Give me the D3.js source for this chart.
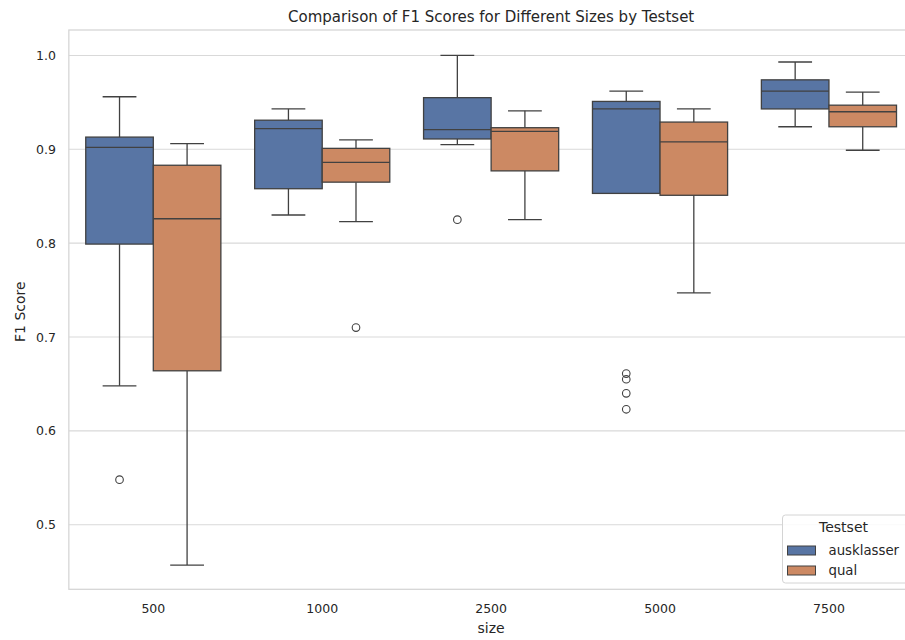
<!DOCTYPE html>
<html>
<head>
<meta charset="utf-8">
<script src="https://cdn.jsdelivr.net/npm/d3@7"></script>
<style>
  html, body { margin: 0; padding: 0; background: #ffffff; }
  svg { display: block; font-family: "DejaVu Sans", sans-serif; }
</style>
</head>
<body>
<svg id="chart" width="905" height="640"></svg>
<script>
// Categories (training size) and hue levels (test set)
const sizes = ["500", "1000", "2500", "5000", "7500"];
const testsets = ["ausklasser", "qual"];
const yTicks = [0.5, 0.6, 0.7, 0.8, 0.9, 1.0];

// Box statistics per size: [lower whisker, Q1, median, Q3, upper whisker]
const ausklasserStats = [
  [0.648, 0.799, 0.902, 0.913, 0.956],
  [0.830, 0.858, 0.922, 0.931, 0.943],
  [0.905, 0.911, 0.921, 0.955, 1.000],
  [0.853, 0.853, 0.943, 0.951, 0.962],
  [0.924, 0.943, 0.962, 0.974, 0.993]
];
const qualStats = [
  [0.457, 0.664, 0.826, 0.883, 0.906],
  [0.823, 0.865, 0.886, 0.901, 0.910],
  [0.825, 0.877, 0.919, 0.923, 0.941],
  [0.747, 0.851, 0.908, 0.929, 0.943],
  [0.899, 0.924, 0.940, 0.947, 0.961]
];
// Outlier points per size
const ausklasserOutliers = [[0.548], [], [0.825], [0.661, 0.655, 0.640, 0.623], []];
const qualOutliers = [[], [0.710], [], [], []];

const colors = ["#5875a4", "#cc8963"];
const lineColor = "#414141";

const svg = d3.select("#chart");
const margin = { left: 68.85, right: 913.4, top: 30, bottom: 589.3 };

const x = d3.scaleBand().domain(sizes).range([margin.left, margin.right]).padding(0);
const hue = d3.scaleBand().domain(testsets).range([-0.4, 0.4]);
const y = d3.scaleLinear().domain([0.4312, 1.0271]).range([margin.bottom, margin.top]);

const bw = x.bandwidth();
const boxW = hue.bandwidth() * bw;

// Grid lines
svg.append("g")
  .selectAll("line")
  .data(yTicks)
  .join("line")
  .attr("x1", margin.left).attr("x2", margin.right)
  .attr("y1", d => y(d)).attr("y2", d => y(d))
  .attr("stroke", "#d9d9d9").attr("stroke-width", 1.1);

// Frame (spines)
svg.append("rect")
  .attr("x", margin.left).attr("y", margin.top)
  .attr("width", margin.right - margin.left)
  .attr("height", margin.bottom - margin.top)
  .attr("fill", "none").attr("stroke", "#d4d4d4").attr("stroke-width", 1.25);

// Axes
const yAxis = d3.axisLeft(y).tickValues(yTicks).tickFormat(d3.format(".1f")).tickSize(0).tickPadding(13);
svg.append("g").attr("transform", `translate(${margin.left},0)`).call(yAxis)
  .call(g => g.select(".domain").remove())
  .selectAll("text").attr("font-size", 12.5).attr("fill", "#262626")
  .attr("font-family", "DejaVu Sans, sans-serif");

const xAxis = d3.axisBottom(x).tickSize(0).tickPadding(15);
svg.append("g").attr("transform", `translate(0,${margin.bottom})`).call(xAxis)
  .call(g => g.select(".domain").remove())
  .selectAll("text").attr("font-size", 12.5).attr("fill", "#262626")
  .attr("font-family", "DejaVu Sans, sans-serif");

// Boxes
const series = [
  { name: testsets[0], stats: ausklasserStats, outliers: ausklasserOutliers, color: colors[0] },
  { name: testsets[1], stats: qualStats, outliers: qualOutliers, color: colors[1] }
];

series.forEach(s => {
  const g = svg.append("g");
  sizes.forEach((size, i) => {
    const [lo, q1, med, q3, hi] = s.stats[i];
    const cx = x(size) + bw / 2 + (hue(s.name) + hue.bandwidth() / 2) * bw;
    const capW = boxW / 2;
    // whiskers
    g.append("line").attr("x1", cx).attr("x2", cx).attr("y1", y(q3)).attr("y2", y(hi))
      .attr("stroke", lineColor).attr("stroke-width", 1.3);
    g.append("line").attr("x1", cx).attr("x2", cx).attr("y1", y(q1)).attr("y2", y(lo))
      .attr("stroke", lineColor).attr("stroke-width", 1.3);
    g.append("line").attr("x1", cx - capW / 2).attr("x2", cx + capW / 2).attr("y1", y(hi)).attr("y2", y(hi))
      .attr("stroke", lineColor).attr("stroke-width", 1.3);
    g.append("line").attr("x1", cx - capW / 2).attr("x2", cx + capW / 2).attr("y1", y(lo)).attr("y2", y(lo))
      .attr("stroke", lineColor).attr("stroke-width", 1.3);
    // box
    g.append("rect")
      .attr("x", cx - boxW / 2).attr("width", boxW)
      .attr("y", y(q3)).attr("height", y(q1) - y(q3))
      .attr("fill", s.color).attr("stroke", lineColor).attr("stroke-width", 1.3);
    // median
    g.append("line").attr("x1", cx - boxW / 2).attr("x2", cx + boxW / 2).attr("y1", y(med)).attr("y2", y(med))
      .attr("stroke", lineColor).attr("stroke-width", 1.3);
    // outliers
    g.selectAll(null).data(s.outliers[i]).join("circle")
      .attr("cx", cx).attr("cy", d => y(d)).attr("r", 3.8)
      .attr("fill", "none").attr("stroke", lineColor).attr("stroke-width", 1.1);
  });
});

// Title and axis labels
svg.append("text").attr("x", (margin.left + margin.right) / 2).attr("y", 22)
  .attr("text-anchor", "middle").attr("font-size", 15).attr("fill", "#262626")
  .text("Comparison of F1 Scores for Different Sizes by Testset");
svg.append("text").attr("x", (margin.left + margin.right) / 2).attr("y", 632.5)
  .attr("text-anchor", "middle").attr("font-size", 14).attr("fill", "#262626")
  .text("size");
svg.append("text")
  .attr("transform", `translate(25,${(margin.top + margin.bottom) / 2 + 2}) rotate(-90)`)
  .attr("text-anchor", "middle").attr("font-size", 14).attr("fill", "#262626")
  .text("F1 Score");

// Legend
const lg = svg.append("g").attr("transform", "translate(782.5,515)");
lg.append("rect").attr("width", 126).attr("height", 68).attr("rx", 3)
  .attr("fill", "#ffffff").attr("fill-opacity", 0.85)
  .attr("stroke", "#d4d4d4").attr("stroke-width", 1);
lg.append("text").attr("x", 61).attr("y", 17).attr("text-anchor", "middle")
  .attr("font-size", 14).attr("fill", "#262626").text("Testset");
testsets.forEach((t, i) => {
  lg.append("rect").attr("x", 5).attr("y", 31 + i * 20).attr("width", 28).attr("height", 9)
    .attr("fill", colors[i]).attr("stroke", lineColor).attr("stroke-width", 1);
  lg.append("text").attr("x", 46).attr("y", 39.5 + i * 20)
    .attr("font-size", 13.3).attr("fill", "#262626").text(t);
});
</script>
</body>
</html>
